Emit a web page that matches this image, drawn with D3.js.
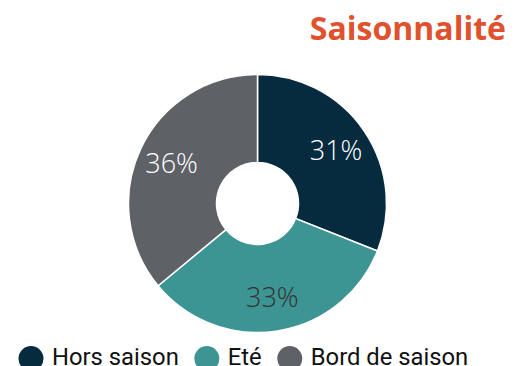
<!DOCTYPE html>
<html>
<head>
<meta charset="utf-8">
<script src="https://cdn.jsdelivr.net/npm/d3@7"></script>
<style>
  html, body { margin: 0; padding: 0; background: #fff; }
  svg { display: block; }
</style>
</head>
<body>
<svg id="chart" width="516" height="366"></svg>
<script>
// Seasonality split
const categories = ["Hors saison", "Eté", "Bord de saison"];
const values = [31, 33, 36];
const colors = ["#062a3e", "#3d9593", "#5e6166"];
const labelColors = ["#ffffff", "#333333", "#ffffff"];
const title = "Saisonnalité";

const svg = d3.select("#chart");
const cx = 257.5, cy = 203.5;
const outerR = 129, innerR = 41, labelR = 95;

// Title, right aligned
svg.append("text")
  .attr("x", 506)
  .attr("y", 40)
  .attr("text-anchor", "end")
  .attr("font-family", "'Open Sans', sans-serif")
  .attr("font-weight", 700)
  .attr("font-size", 32)
  .attr("fill", "#e0512e")
  .text(title);

const pie = d3.pie().sort(null).value(d => d)(values);
const arc = d3.arc().innerRadius(innerR).outerRadius(outerR);
const labelArc = d3.arc().innerRadius(labelR).outerRadius(labelR);

const g = svg.append("g").attr("transform", `translate(${cx},${cy})`);

g.selectAll("path.slice")
  .data(pie)
  .join("path")
  .attr("class", "slice")
  .attr("d", arc)
  .attr("fill", (d, i) => colors[i])
  .attr("stroke", "#ffffff")
  .attr("stroke-width", 1.5);

g.selectAll("text.val")
  .data(pie)
  .join("text")
  .attr("class", "val")
  .attr("transform", d => `translate(${labelArc.centroid(d)})`)
  .attr("text-anchor", "middle")
  .attr("dy", "0.36em")
  .attr("font-family", "'Open Sans', sans-serif")
  .attr("font-weight", 300)
  .attr("font-size", 27)
  .attr("fill", (d, i) => labelColors[i])
  .text(d => d.data + "%");

// Legend along the bottom
const legend = svg.append("g").attr("class", "legend");
let x = 18.5;
const ly = 358.5, lr = 12.5;
categories.forEach((c, i) => {
  legend.append("circle")
    .attr("cx", x + lr)
    .attr("cy", ly)
    .attr("r", lr)
    .attr("fill", colors[i]);
  const t = legend.append("text")
    .attr("x", x + 2 * lr + 8.5)
    .attr("y", 365)
    .attr("font-family", "Roboto, sans-serif")
    .attr("font-size", 23.8)
    .attr("fill", "#111111")
    .text(c);
  x = x + 2 * lr + 8.5 + t.node().getComputedTextLength() + 15.5;
});
</script>
</body>
</html>
